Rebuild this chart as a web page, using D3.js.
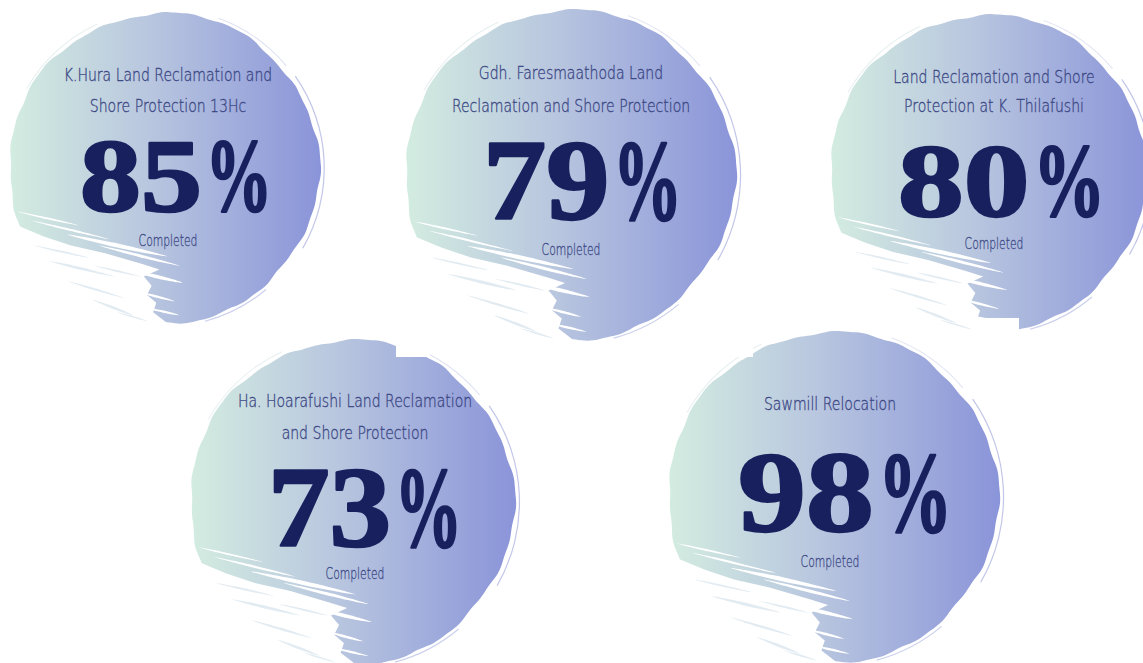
<!DOCTYPE html>
<html>
<head>
<meta charset="utf-8">
<script src="https://cdn.jsdelivr.net/npm/d3@7"></script>
<style>
  html, body { margin: 0; padding: 0; background: #ffffff; }
  svg { display: block; }
</style>
</head>
<body>
<svg id="chart" width="1143" height="663"></svg>
<script>
// ---- data ----
const projectTitles = [
  ["K.Hura Land Reclamation and", "Shore Protection 13Hc"],
  ["Gdh. Faresmaathoda Land", "Reclamation and Shore Protection"],
  ["Land Reclamation and Shore", "Protection at K. Thilafushi"],
  ["Ha. Hoarafushi Land Reclamation", "and Shore Protection"],
  ["Sawmill Relocation"]
];
const completionPct = [85, 79, 80, 73, 98];
const statusLabel = "Completed";

// ---- layout (positions / sizes only) ----
const circleLayout = [
  { cx: 164, cy: 168, r: 155, t: [-87, -56], num: 43, numSize: 103, numL: -84, numW: 192, comp: 78, tDx: 4 },
  { cx: 570, cy: 175, r: 165, t: [-96, -63], num: 44, numSize: 115, numL: -87, numW: 199, comp: 80, tDx: 1 },
  { cx: 988, cy: 173, r: 158, t: [-90, -61], num: 43, numSize: 103, numL: -90, numW: 207, comp: 76, tDx: 6 },
  { cx: 352, cy: 502, r: 162, t: [-95, -63], num: 44, numSize: 115, numL: -84, numW: 194, comp: 77, tDx: 3 },
  { cx: 833, cy: 497, r: 165, t: [-87], num: 34, numSize: 115, numL: -95, numW: 214, comp: 70, tDx: -3 }
];

// decorative brush texture (normalized to radius)
const eatenRegion = [[-0.97,0.36],[-0.78,0.44],[-0.6,0.5],[-0.38,0.55],[-0.14,0.62],[-0.03,0.655],[-0.13,0.7],
  [-0.08,0.76],[-0.11,0.82],[-0.05,0.87],[-0.07,0.93],[0.02,1.0],[0.05,1.15],[-1.3,1.3],[-1.3,0.36]];
const whiteStreaks = [
  [-0.62,0.43,0.02,0.57,0.025],[-0.42,0.5,0.1,0.63,0.018],[-0.22,0.66,0.12,0.74,0.022],
  [-0.16,0.8,0.07,0.86,0.016],[-0.95,0.28,-0.55,0.37,0.012],[-0.85,0.34,-0.35,0.46,0.014],
  [-0.12,0.9,0.1,0.95,0.014]
];
const paleStreaks = [
  [-0.84,0.5,-0.48,0.58,0.012],[-0.74,0.6,-0.32,0.7,0.018],[-0.62,0.73,-0.25,0.84,0.014],
  [-0.46,0.85,-0.2,0.95,0.016],[-0.45,0.63,-0.15,0.7,0.012],[-0.3,0.93,-0.1,0.99,0.01]
];
const bristleArcs = [
  [-35, 30, 1.03, 1.2, "#8e98d6", 0.55],[-70, -40, 1.025, 1.0, "#aab5dc", 0.4],
  [210, 245, 1.02, 1.0, "#cfe0e4", 0.5],[50, 75, 1.02, 1.2, "#9fa9dc", 0.55]
];
const whitePatches = [
  { x: 396, y: 336, w: 34, h: 21 },
  { x: 972, y: 318, w: 47, h: 20 },
  { x: 700, y: 332, w: 53, h: 25 }
];

const svg = d3.select("#chart");
const defs = svg.append("defs");
const grad = defs.append("linearGradient").attr("id", "circleGrad")
  .attr("x1", "0%").attr("x2", "100%").attr("y1", "0%").attr("y2", "0%");
grad.append("stop").attr("offset", "0%").attr("stop-color", "#d3ece0");
grad.append("stop").attr("offset", "45%").attr("stop-color", "#b8c6df");
grad.append("stop").attr("offset", "100%").attr("stop-color", "#8a94d9");

const wobble = a => 1 + 0.008 * Math.sin(5 * a) + 0.005 * Math.sin(13 * a + 0.7) + 0.003 * Math.sin(31 * a + 2);
const angles = d3.range(0, 2 * Math.PI, Math.PI / 90);

function taper(p, r) {
  const [x1, y1, x2, y2, w] = p;
  const dx = x2 - x1, dy = y2 - y1, len = Math.hypot(dx, dy);
  const nx = -dy / len, ny = dx / len;
  const mx = (x1 + x2) / 2, my = (y1 + y2) / 2;
  return [[x1, y1], [mx + nx * w / 2, my + ny * w / 2], [x2, y2], [mx - nx * w / 2, my - ny * w / 2]]
    .map(q => [q[0] * r, q[1] * r]);
}

const groups = svg.selectAll("g.badge").data(circleLayout).join("g")
  .attr("class", "badge")
  .attr("transform", d => `translate(${d.cx},${d.cy})`);

// bristle arcs outside the disc
groups.each(function (d) {
  const g = d3.select(this);
  bristleArcs.forEach(b => {
    const arc = d3.arc().innerRadius(d.r * b[2]).outerRadius(d.r * b[2] + b[3])
      .startAngle((b[0] + 90) * Math.PI / 180).endAngle((b[1] + 90) * Math.PI / 180);
    g.append("path").attr("d", arc()).attr("fill", b[4]).attr("opacity", b[5]);
  });
});

// disc
groups.append("path")
  .attr("d", d => d3.lineRadial().angle(a => a).radius(a => d.r * wobble(a))
    .curve(d3.curveCardinalClosed)(angles))
  .attr("fill", "url(#circleGrad)");

// brush erosion lower-left
groups.append("path")
  .attr("d", d => d3.line().curve(d3.curveLinearClosed)(eatenRegion.map(p => [p[0] * d.r, p[1] * d.r])))
  .attr("fill", "#ffffff");
groups.each(function (d) {
  const g = d3.select(this);
  paleStreaks.forEach(s => g.append("path")
    .attr("d", d3.line().curve(d3.curveCardinalClosed)(taper(s, d.r)))
    .attr("fill", "#c9dbe6").attr("opacity", 0.55));
  whiteStreaks.forEach(s => g.append("path")
    .attr("d", d3.line().curve(d3.curveCardinalClosed)(taper(s, d.r)))
    .attr("fill", "#ffffff"));
});

// titles
groups.each(function (d, i) {
  const g = d3.select(this);
  projectTitles[i].forEach((line, j) => {
    g.append("text")
      .attr("transform", `translate(${d.tDx},${d.t[j]}) scale(0.78,1)`)
      .attr("text-anchor", "middle")
      .attr("font-family", "'DejaVu Sans', sans-serif")
      .attr("font-weight", 200)
      .attr("font-size", 18)
      .attr("fill", "#3c4885")
      .attr("stroke", "#3c4885")
      .attr("stroke-width", 0.35)
      .text(line);
  });
});

// big percentages: digits and percent sign fitted separately
groups.each(function (d, i) {
  const g = d3.select(this);
  const common = t => t
    .attr("font-family", "'Liberation Serif', 'Times New Roman', serif")
    .attr("font-weight", 700)
    .attr("font-size", d.numSize)
    .attr("fill", "#18215e")
    .attr("stroke", "#18215e")
    .attr("stroke-width", 2.5)
    .attr("stroke-linejoin", "round");
  const digits = g.append("text").call(common).text(String(completionPct[i]));
  const pct = g.append("text").call(common).text("%");
  const dw = digits.node().getBBox().width;
  const pw = pct.node().getBBox().width;
  const dTarget = d.numW * 0.635, pTarget = d.numW * 0.345, gap = d.numW * 0.02;
  digits.attr("transform", `translate(${d.numL},${d.num}) scale(${dTarget / dw},1)`);
  pct.attr("transform", `translate(${d.numL + dTarget + gap},${d.num}) scale(${pTarget / pw},1)`);
});

// status label
groups.append("text")
  .attr("transform", d => `translate(${d.tDx},${d.comp}) scale(0.72,1)`)
  .attr("text-anchor", "middle")
  .attr("font-family", "'DejaVu Sans', sans-serif")
  .attr("font-weight", 200)
  .attr("font-size", 15)
  .attr("fill", "#3c4885")
  .attr("stroke", "#3c4885")
  .attr("stroke-width", 0.3)
  .text(statusLabel);

// white overlap patches
svg.selectAll("rect.patch").data(whitePatches).join("rect")
  .attr("class", "patch")
  .attr("x", d => d.x).attr("y", d => d.y).attr("width", d => d.w).attr("height", d => d.h)
  .attr("fill", "#ffffff");
</script>
</body>
</html>
